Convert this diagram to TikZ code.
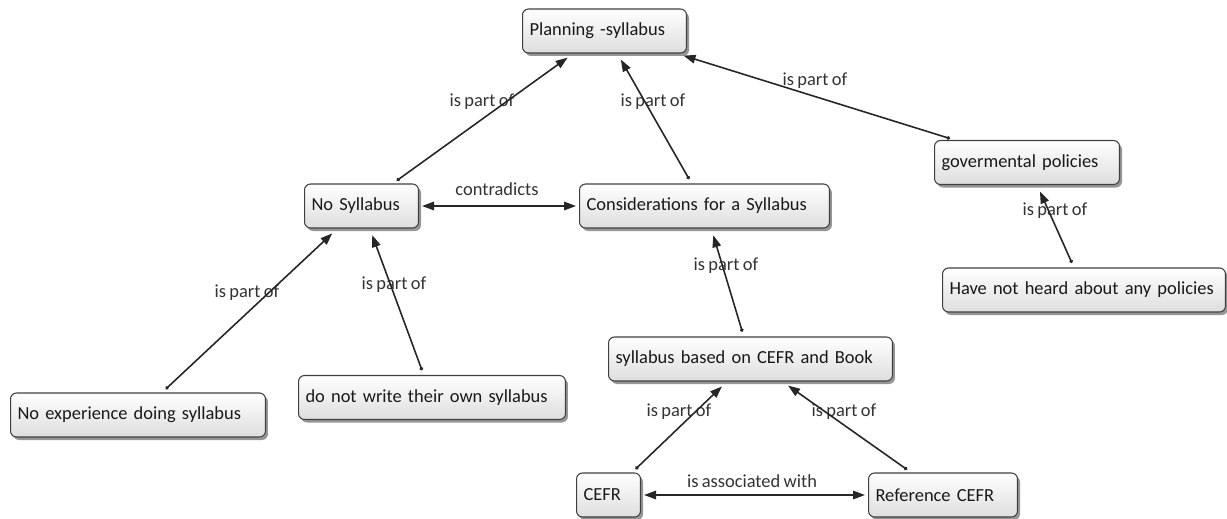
\documentclass[tikz,border=0pt]{standalone}
\usepackage{fontspec}
\setmainfont{Carlito}[WordSpace=0.8]
\usetikzlibrary{arrows.meta, shadows}

\begin{document}
\begin{tikzpicture}[
  x=0.02cm, y=-0.02cm,
  font=\fontsize{10.5}{12}\selectfont,
  concept/.style={draw=black!75, line width=0.6pt, rounded corners=0.12cm,
                  top color=white, bottom color=black!13, anchor=west,
                  drop shadow={shadow xshift=0.05cm, shadow yshift=-0.06cm,
                               opacity=0.55, fill=black!75},
                  align=left, text width=#1, inner xsep=0.14cm, inner ysep=0pt,
                  minimum height=0.88cm, text=black!90},
  rel/.style={{Circle[length=0.07cm]}-{Triangle[length=0.24cm, width=0.17cm]},
              line width=0.9pt, black!85, shorten <=0.1cm, shorten >=0.14cm},
  both/.style={{Triangle[length=0.24cm, width=0.17cm]}-{Triangle[length=0.24cm, width=0.17cm]},
               line width=0.9pt, black!85, shorten <=0.06cm, shorten >=0.06cm},
  lbl/.style={text=black!80}
]
\useasboundingbox (0,0) rectangle (1227,518);

\node[concept=3.0cm]  (plan)  at (522,31)    {Planning -syllabus};
\node[concept=2.0cm]  (nos)   at (304,206)   {No Syllabus};
\node[concept=4.72cm] (cons)  at (579,206)   {Considerations for a Syllabus};
\node[concept=3.42cm] (gov)   at (934,162.5) {govermental policies};
\node[concept=5.38cm] (have)  at (942,290)   {Have not heard about any policies};
\node[concept=5.4cm]  (syl)   at (608,359)   {syllabus based on CEFR and Book};
\node[concept=4.82cm] (noexp) at (10,415)    {No experience doing syllabus};
\node[concept=5.06cm] (donot) at (298,397.5) {do not write their own syllabus};
\node[concept=1.0cm]  (cefr)  at (576,495)   {CEFR};
\node[concept=2.7cm]  (ref)   at (868,495)   {Reference CEFR};

\node[lbl] (lnos)   at (482,102) {is part of};
\node[lbl] (lcons)  at (653,102) {is part of};
\node[lbl] (lgov)   at (815,81)  {is part of};
\node[lbl] (lcontr) at (497,189) {contradicts};
\node[lbl] (lhave)  at (1055,211) {is part of};
\node[lbl] (lsyl)   at (726,266) {is part of};
\node[lbl] (lnoexp) at (247,293) {is part of};
\node[lbl] (ldonot) at (394,285) {is part of};
\node[lbl] (lcefr)  at (679,412) {is part of};
\node[lbl] (lref)   at (844,412) {is part of};
\node[lbl] (lassoc) at (752,481) {is associated with};

\draw[rel] (nos) -- (plan);
\draw[rel] (cons) -- (plan);
\draw[rel] (gov) -- (plan);
\draw[both] (nos) -- (cons);
\draw[rel] (have) -- (gov);
\draw[rel] (syl) -- (cons);
\draw[rel] (noexp) -- (nos);
\draw[rel] (donot) -- (nos);
\draw[rel] (cefr) -- (syl);
\draw[rel] (ref) -- (syl);
\draw[both] (cefr) -- (ref);
\end{tikzpicture}
\end{document}
